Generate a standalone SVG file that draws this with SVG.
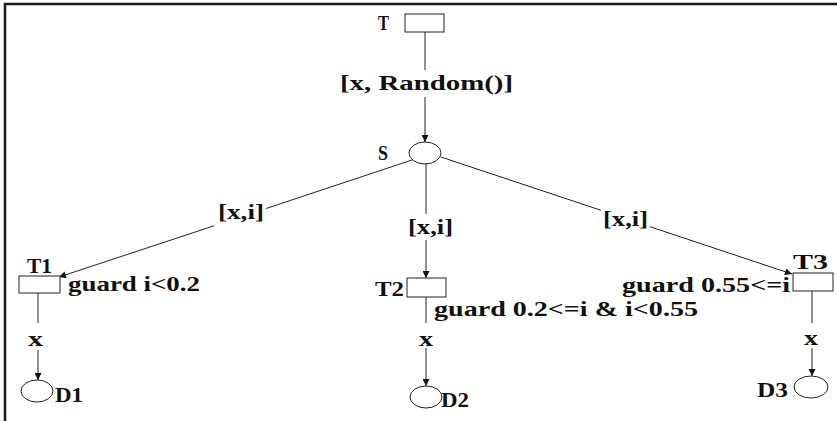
<svg xmlns="http://www.w3.org/2000/svg" width="837" height="421" viewBox="0 0 837 421">
<style>
.bg{fill:#fff}
.frame{stroke:#1a1a1a;stroke-width:2.5;fill:none}
.node{fill:#fff;stroke:#222;stroke-width:1}
.edge{stroke:#222;stroke-width:1;fill:none}
.arr{marker-end:url(#ah)}
.t{font-family:'Liberation Serif','Times New Roman',serif;font-weight:bold;font-size:21px;fill:#111}
</style>
<defs>
<marker id="ah" viewBox="0 0 10 10" refX="10" refY="5" markerWidth="8" markerHeight="7" markerUnits="userSpaceOnUse" orient="auto">
<path d="M0,0 L10,5 L0,10 z" fill="#111"/>
</marker>
</defs>
<rect class="bg" x="0" y="0" width="837" height="421"/>
<path class="frame" d="M5,421 L5,4 L837,4"/>
<g id="connectors">
<line class="edge" x1="425" y1="32" x2="425" y2="70"/>
<line class="edge arr" x1="425" y1="97" x2="425" y2="142"/>
<line class="edge" x1="418" y1="158" x2="266" y2="208.5"/>
<line class="edge arr" x1="214" y1="225.8" x2="59" y2="277"/>
<line class="edge" x1="426" y1="164" x2="426" y2="214"/>
<line class="edge arr" x1="426" y1="240" x2="426" y2="278"/>
<line class="edge" x1="441" y1="157" x2="601" y2="210.3"/>
<line class="edge arr" x1="650" y1="226.7" x2="792" y2="274"/>
<line class="edge" x1="38" y1="293" x2="38" y2="323"/>
<line class="edge arr" x1="38" y1="350" x2="38" y2="380"/>
<line class="edge" x1="426" y1="297" x2="426" y2="323"/>
<line class="edge arr" x1="426" y1="348" x2="426" y2="386"/>
<line class="edge" x1="812" y1="291" x2="812" y2="323"/>
<line class="edge arr" x1="812" y1="348" x2="812" y2="376"/>
<text class="t" x="340" y="90" textLength="173" lengthAdjust="spacingAndGlyphs">[x, Random()]</text>
<text class="t" x="218" y="219" textLength="46" lengthAdjust="spacingAndGlyphs">[x,i]</text>
<text class="t" x="408" y="234" textLength="45" lengthAdjust="spacingAndGlyphs">[x,i]</text>
<text class="t" x="603" y="226" textLength="45" lengthAdjust="spacingAndGlyphs">[x,i]</text>
<text class="t" x="28" y="346" textLength="15" lengthAdjust="spacingAndGlyphs">x</text>
<text class="t" x="419" y="346" textLength="14" lengthAdjust="spacingAndGlyphs">x</text>
<text class="t" x="804" y="345" textLength="14" lengthAdjust="spacingAndGlyphs">x</text>
</g>
<g id="T">
<rect class="node" x="405" y="14" width="39" height="18"/>
<text class="t" x="378" y="30" textLength="11" lengthAdjust="spacingAndGlyphs">T</text>
</g>
<g id="S">
<ellipse class="node" cx="425" cy="153" rx="16" ry="11"/>
<text class="t" x="378" y="160" textLength="10" lengthAdjust="spacingAndGlyphs">S</text>
</g>
<g id="T1">
<rect class="node" x="19" y="276" width="41" height="17"/>
<text class="t" x="27" y="273" textLength="25" lengthAdjust="spacingAndGlyphs">T1</text>
<text class="t" x="68" y="291" textLength="132" lengthAdjust="spacingAndGlyphs">guard i&lt;0.2</text>
</g>
<g id="T2">
<rect class="node" x="407" y="278" width="39" height="19"/>
<text class="t" x="375" y="296" textLength="29" lengthAdjust="spacingAndGlyphs">T2</text>
<text class="t" x="434" y="316" textLength="264" lengthAdjust="spacingAndGlyphs">guard 0.2&lt;=i &amp; i&lt;0.55</text>
</g>
<g id="T3">
<rect class="node" x="793" y="273" width="40" height="18"/>
<text class="t" x="793" y="269" textLength="35" lengthAdjust="spacingAndGlyphs">T3</text>
<text class="t" x="622" y="292" textLength="168" lengthAdjust="spacingAndGlyphs">guard 0.55&lt;=i</text>
</g>
<g id="D1">
<ellipse class="node" cx="37" cy="391" rx="16" ry="11"/>
<text class="t" x="55" y="402" textLength="28" lengthAdjust="spacingAndGlyphs">D1</text>
</g>
<g id="D2">
<ellipse class="node" cx="426" cy="397" rx="16" ry="11"/>
<text class="t" x="441" y="407" textLength="28" lengthAdjust="spacingAndGlyphs">D2</text>
</g>
<g id="D3">
<ellipse class="node" cx="811" cy="387" rx="17" ry="11"/>
<text class="t" x="757" y="397" textLength="31" lengthAdjust="spacingAndGlyphs">D3</text>
</g>
</svg>
